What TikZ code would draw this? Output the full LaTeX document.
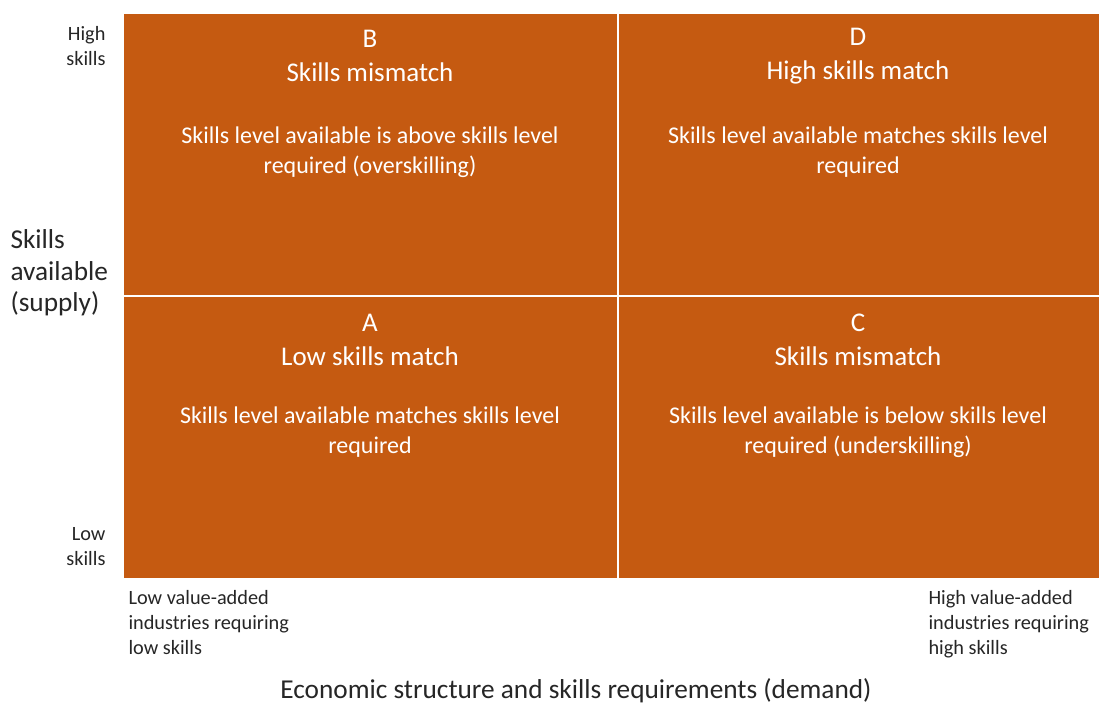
\documentclass[tikz,border=0pt]{standalone}
\usepackage{fontspec}
\setmainfont{Carlito}
\definecolor{quad}{HTML}{C55A11}
\definecolor{axis}{HTML}{262626}
\begin{document}
\begin{tikzpicture}[x=1pt,y=-1pt,
  quadbox/.style={fill=quad,draw=none},
  qhead/.style={text=white,align=center,font=\fontsize{27}{34}\selectfont},
  qdesc/.style={text=white,align=center,font=\fontsize{24}{30}\selectfont},
  small/.style={text=axis,font=\fontsize{20.3}{25}\selectfont},
  big/.style={text=axis,font=\fontsize{27.3}{31.5}\selectfont}]
\useasboundingbox[fill=white] (0,0) rectangle (1105,711);
% quadrants
\path[quadbox] (124,14) rectangle (616.5,295) node[pos=.5] (qB) {};
\path[quadbox] (618.5,14) rectangle (1099,295) node[pos=.5] (qD) {};
\path[quadbox] (124,297) rectangle (616.5,578) node[pos=.5] (qA) {};
\path[quadbox] (618.5,297) rectangle (1099,578) node[pos=.5] (qC) {};
% texts
\node[qhead] (hB) at (370,56) {B\\Skills mismatch};
\node[qdesc] (dB) at (370,152) {Skills level available is above skills level\\required (overskilling)};
\node[qhead] (hD) at (858,56) {D\\High skills match};
\node[qdesc] (dD) at (858,152) {Skills level available matches skills level\\required};
\node[qhead] (hA) at (370,340) {A\\Low skills match};
\node[qdesc] (dA) at (370,432) {Skills level available matches skills level\\required};
\node[qhead] (hC) at (858,340) {C\\Skills mismatch};
\node[qdesc] (dC) at (858,432) {Skills level available is below skills level\\required (underskilling)};
% axis labels
\node[small,align=right,anchor=east] (hs) at (109,46) {High\\skills};
\node[small,align=right,anchor=east] (ls) at (109,547) {Low\\skills};
\node[big,align=left,anchor=west] (sa) at (7,273) {Skills\\available\\(supply)};
\node[small,align=left,anchor=north west] (lv) at (125,587) {Low value-added\\industries requiring\\low skills};
\node[small,align=left,anchor=north west] (hv) at (925,587) {High value-added\\industries requiring\\high skills};
\node[big] (ec) at (576,691) {Economic structure and skills requirements (demand)};
\end{tikzpicture}
\end{document}
